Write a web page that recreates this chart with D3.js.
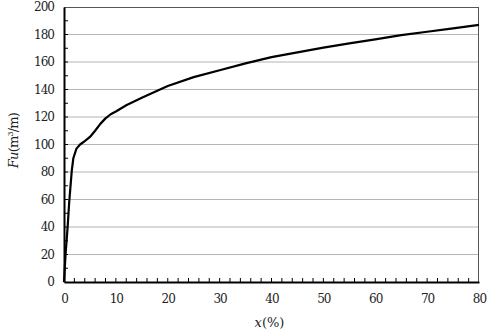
<!DOCTYPE html>
<html>
<head>
<meta charset="utf-8">
<script src="https://cdn.jsdelivr.net/npm/d3@7"></script>
<style>
  body { margin: 0; background: #fff; }
</style>
</head>
<body>
<svg id="svg"></svg>
<script>
// curve
var xVals = [0, 0.3, 0.7, 1.0, 1.5, 1.8, 2.4, 3.1, 4, 5, 6, 7, 8, 9, 10, 12, 15, 20, 25, 30, 35, 40, 45, 50, 55, 60, 65, 70, 75, 80];
var fuVals = [0, 20, 40, 58, 81, 90, 97, 100, 102.5, 105.5, 110, 115, 119, 122, 124, 128.5, 134, 142.5, 149, 154, 159, 163.5, 167, 170.5, 173.5, 176.5, 179.5, 182, 184.5, 187];
var xTicks = [0, 10, 20, 30, 40, 50, 60, 70, 80];
var yTicks = [0, 20, 40, 60, 80, 100, 120, 140, 160, 180, 200];

var width = 495, height = 334;
var margin = {left: 64, top: 7, right: 16, bottom: 52};
var plot_w = width - margin.left - margin.right;
var plot_h = height - margin.top - margin.bottom;
var fontFam = "DejaVu Serif";

var svg = d3.select("#svg").attr("width", width).attr("height", height);
var container = svg.append("g").attr("transform", `translate(${margin.left}, ${margin.top})`);

var xScale = d3.scaleLinear().domain([0, 80]).range([0, plot_w]);
var yScale = d3.scaleLinear().domain([0, 200]).range([plot_h, 0]);

// grid lines
container.selectAll(".grid")
    .data(yTicks.filter(d => d > 0 && d < 200))
    .enter()
    .append("line")
    .attr("x1", 0).attr("x2", plot_w)
    .attr("y1", d => yScale(d)).attr("y2", d => yScale(d))
    .attr("stroke", "#b4b4b4").attr("stroke-width", 1);

// frame top / right
container.append("line").attr("x1", 0).attr("x2", plot_w).attr("y1", 0.5).attr("y2", 0.5)
    .attr("stroke", "#555").attr("stroke-width", 1);
container.append("line").attr("x1", plot_w - 0.5).attr("x2", plot_w - 0.5).attr("y1", 0).attr("y2", plot_h)
    .attr("stroke", "#555").attr("stroke-width", 1);

// minor ticks
container.selectAll(".xminor")
    .data(d3.range(2, 80, 2))
    .enter()
    .append("line")
    .attr("x1", d => xScale(d)).attr("x2", d => xScale(d))
    .attr("y1", plot_h).attr("y2", plot_h - 4)
    .attr("stroke", "#000").attr("stroke-width", 1);
container.selectAll(".yminor")
    .data(d3.range(10, 200, 10))
    .enter()
    .append("line")
    .attr("x1", 0).attr("x2", 4)
    .attr("y1", d => yScale(d)).attr("y2", d => yScale(d))
    .attr("stroke", "#000").attr("stroke-width", 1);

// axes
var xAxis = container.append("g").attr("transform", `translate(0, ${plot_h})`)
    .call(d3.axisBottom(xScale).tickValues(xTicks).tickSize(0).tickPadding(12));
var yAxis = container.append("g")
    .call(d3.axisLeft(yScale).tickValues(yTicks).tickSize(0).tickPadding(10));
[xAxis, yAxis].forEach(a => {
    a.attr("font-family", fontFam).attr("font-size", 12);
    a.select(".domain").attr("stroke", "#000").attr("stroke-width", 2);
    a.selectAll("text").attr("fill", "#222").attr("letter-spacing", -1);
});

// curve
var line = d3.line().x((d, i) => xScale(xVals[i])).y(d => yScale(d));
container.append("path")
    .datum(fuVals)
    .attr("d", line)
    .attr("fill", "none")
    .attr("stroke", "#000")
    .attr("stroke-width", 2.2)
    .attr("stroke-linejoin", "round");

// axis titles
var xl = svg.append("text")
    .attr("x", margin.left + plot_w / 2 - 2).attr("y", 327)
    .attr("font-family", fontFam)
    .attr("text-anchor", "middle").attr("font-size", 13).attr("fill", "#222");
xl.append("tspan").attr("font-style", "italic").text("x");
xl.append("tspan").text("(%)");

var yl = svg.append("text")
    .attr("transform", `translate(18, ${margin.top + plot_h / 2 - 4}) rotate(-90)`)
    .attr("font-family", fontFam)
    .attr("text-anchor", "middle").attr("font-size", 13).attr("fill", "#222")
    .attr("letter-spacing", -0.8);
yl.append("tspan").attr("font-style", "italic").text("Fu");
yl.append("tspan").text("(m");
yl.append("tspan").attr("font-size", 8).attr("dy", -5).text("3");
yl.append("tspan").attr("dy", 5).text("/m)");
</script>
</body>
</html>
